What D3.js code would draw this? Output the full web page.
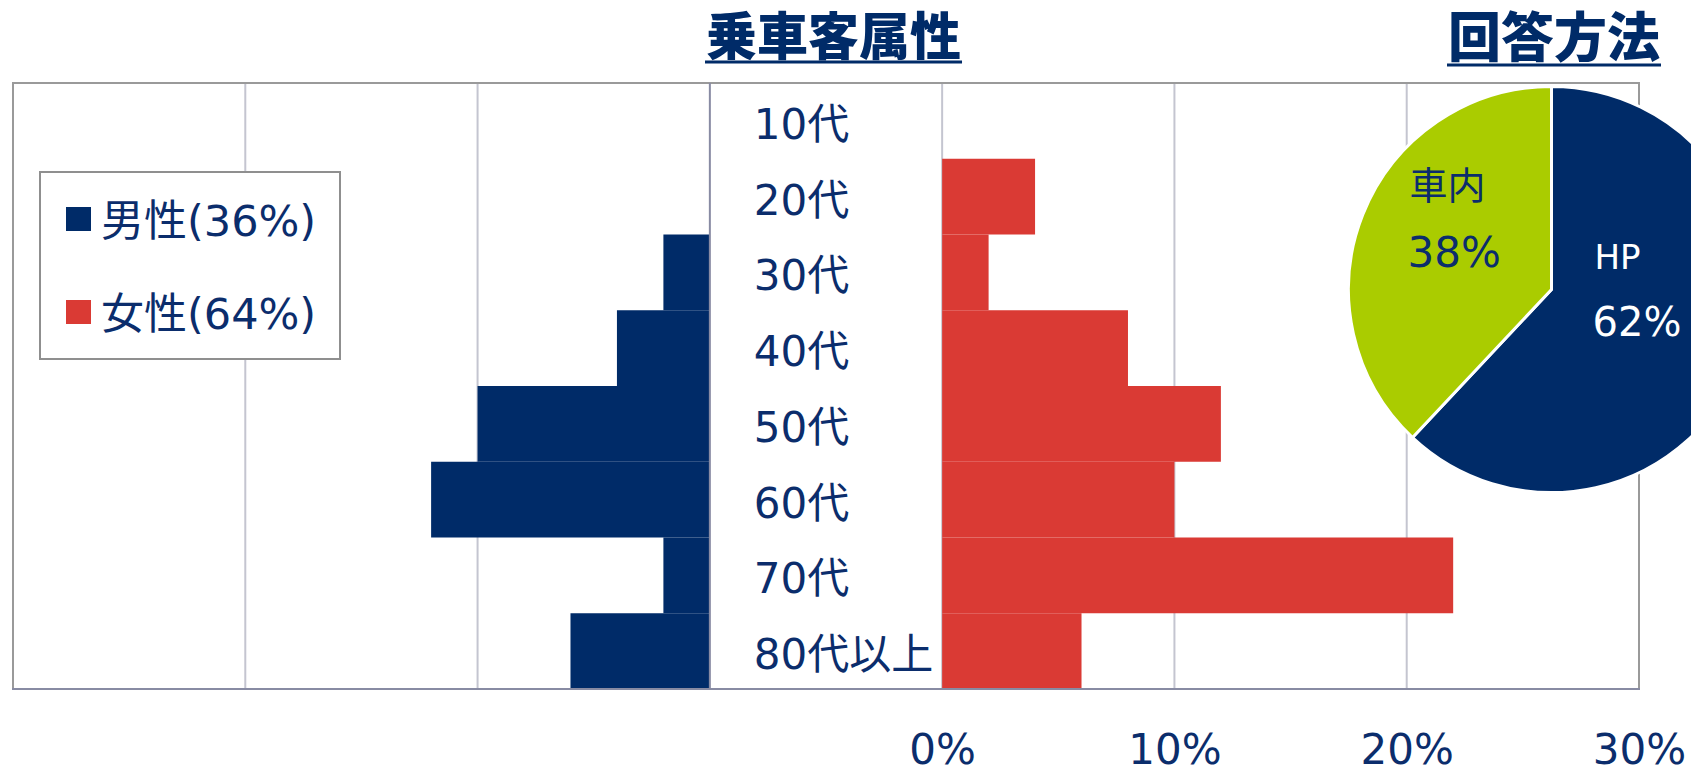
<!DOCTYPE html>
<html>
<head>
<meta charset="utf-8">
<script src="https://cdn.jsdelivr.net/npm/d3@7"></script>
<style>
  html, body { margin: 0; padding: 0; background: #ffffff; }
  svg { display: block; }
</style>
</head>
<body>
<script>
// Age groups, top to bottom
const categories = ["10代", "20代", "30代", "40代", "50代", "60代", "70代", "80代以上"];
// Share of all respondents (%) per age group
const maleValues = [0, 0, 2, 4, 10, 12, 2, 6];
const femaleValues = [0, 4, 2, 8, 12, 10, 22, 6];
// Value-axis tick labels (female side)
const tickValues = [0, 10, 20, 30];
// Answer method split
const methodLabels = ["HP", "車内"];
const methodValues = [62, 38];

const W = 1691, H = 769;
const FONT = "'DejaVu Sans', 'Noto Sans CJK JP', sans-serif";
const CJK_BOLD = "'Noto Sans CJK JP', sans-serif";
const NAVY = "#002b68", RED = "#da3a34", GREEN = "#aacc00", INK = "#0b2d6c";
const GRID = "#c4c5d0", AXIS = "#888ba3", BORDER = "#9a9a9a";

const svg = d3.select("body").append("svg")
  .attr("width", W).attr("height", H)
  .style("font-family", FONT);

// ---- Population pyramid -------------------------------------------------
const plot = { left: 13, right: 1639, top: 83, bottom: 689 };
const x = d3.scaleLinear().domain([-40, 30]).range([plot.left, plot.right]);
// Male bars grow leftwards from their own zero line at -10 on the shared axis
const xMale = d3.scaleLinear().domain([0, 30]).range([x(-10), x(-40)]);
const y = d3.scaleBand().domain(categories).range([plot.top, plot.bottom]).padding(0);

// Gridlines
svg.append("g").selectAll("line")
  .data([-30, -20, 0, 10, 20])
  .join("line")
  .attr("x1", d => x(d)).attr("x2", d => x(d))
  .attr("y1", plot.top).attr("y2", plot.bottom)
  .attr("stroke", GRID).attr("stroke-width", 2);

// Plot border (top, left, right)
svg.append("path")
  .attr("d", `M${plot.left},${plot.bottom} V${plot.top} H${plot.right} V${plot.bottom}`)
  .attr("fill", "none").attr("stroke", BORDER).attr("stroke-width", 2);

// Bars
svg.append("g").selectAll("rect")
  .data(categories.map((c, i) => ({ c, v: maleValues[i] })))
  .join("rect")
  .attr("x", d => xMale(d.v))
  .attr("width", d => xMale(0) - xMale(d.v))
  .attr("y", d => y(d.c))
  .attr("height", y.bandwidth())
  .attr("fill", NAVY);

svg.append("g").selectAll("rect")
  .data(categories.map((c, i) => ({ c, v: femaleValues[i] })))
  .join("rect")
  .attr("x", x(0))
  .attr("width", d => x(d.v) - x(0))
  .attr("y", d => y(d.c))
  .attr("height", y.bandwidth())
  .attr("fill", RED);

// Male zero line and bottom axis line
svg.append("line")
  .attr("x1", xMale(0)).attr("x2", xMale(0))
  .attr("y1", plot.top).attr("y2", plot.bottom)
  .attr("stroke", AXIS).attr("stroke-width", 2);
svg.append("line")
  .attr("x1", plot.left - 1).attr("x2", plot.right + 1)
  .attr("y1", plot.bottom).attr("y2", plot.bottom)
  .attr("stroke", AXIS).attr("stroke-width", 2);

// Age group labels in the centre gap
svg.append("g").selectAll("text")
  .data(categories)
  .join("text")
  .attr("x", xMale(0) + 44)
  .attr("y", d => y(d) + y.bandwidth() / 2 + 18)
  .attr("fill", INK)
  .attr("font-size", 42)
  .text(d => d);

// Value axis labels
const axis = svg.append("g")
  .attr("transform", `translate(0,${plot.bottom})`)
  .call(d3.axisBottom(x).tickValues(tickValues).tickFormat(d => d + "%").tickSize(0));
axis.select(".domain").remove();
axis.selectAll("text")
  .attr("y", 75).attr("dy", 0)
  .attr("fill", INK)
  .style("font-family", FONT)
  .attr("font-size", 42);

// Legend
const legend = svg.append("g");
legend.append("rect")
  .attr("x", 40).attr("y", 172).attr("width", 300).attr("height", 187)
  .attr("fill", "#ffffff").attr("stroke", "#8f8f8f").attr("stroke-width", 2);
const legendItems = [
  { label: `男性(${d3.sum(maleValues)}%)`, color: NAVY },
  { label: `女性(${d3.sum(femaleValues)}%)`, color: RED }
];
legendItems.forEach((d, i) => {
  const gy = 207 + i * 93;
  legend.append("rect")
    .attr("x", 66).attr("y", gy).attr("width", 25).attr("height", 24)
    .attr("fill", d.color);
  legend.append("text")
    .attr("x", 101).attr("y", gy + 29)
    .attr("fill", INK).attr("font-size", 43)
    .text(d.label);
});

// ---- Answer method pie --------------------------------------------------
const cx = 1551.5, cy = 289.5, r = 203;
const pie = d3.pie().sort(null).value(d => d.v);
const arc = d3.arc().innerRadius(0).outerRadius(r);
const pieData = pie(methodLabels.map((l, i) => ({ l, v: methodValues[i] })));
const pieColors = { "HP": NAVY, "車内": GREEN };

const pg = svg.append("g").attr("transform", `translate(${cx},${cy})`);
pg.selectAll("path")
  .data(pieData)
  .join("path")
  .attr("d", arc)
  .attr("fill", d => pieColors[d.data.l])
  .attr("stroke", "#ffffff")
  .attr("stroke-width", 3)
  .attr("stroke-linejoin", "round");

// Slice labels: name on top, percentage below
const labelSpots = {
  "HP":  { dx: 43,   nameY: -20.5, nameSize: 34, pctY: 46.5, pctSize: 40, color: "#ffffff" },
  "車内": { dx: -142, nameY: -91,  nameSize: 38, pctY: -22.5, pctSize: 42, color: INK }
};
pieData.forEach(d => {
  const s = labelSpots[d.data.l];
  pg.append("text")
    .attr("x", s.dx).attr("y", s.nameY)
    .attr("fill", s.color).attr("font-size", s.nameSize)
    .text(d.data.l);
  pg.append("text")
    .attr("x", s.dx - 2).attr("y", s.pctY)
    .attr("fill", s.color).attr("font-size", s.pctSize)
    .text(d.data.v + "%");
});

// ---- Section titles -----------------------------------------------------
function title(text, x0, baseline, size, underlineY) {
  const t = svg.append("text")
    .attr("x", x0).attr("y", baseline)
    .attr("fill", NAVY)
    .attr("font-size", size)
    .attr("font-weight", 900)
    .style("font-family", CJK_BOLD)
    .text(text);
  const len = t.node().getComputedTextLength();
  svg.append("line")
    .attr("x1", x0 - 1).attr("x2", x0 + len + 1)
    .attr("y1", underlineY).attr("y2", underlineY)
    .attr("stroke", NAVY).attr("stroke-width", 3);
}
title("乗車客属性", 706, 55, 51, 62);
title("回答方法", 1448, 57, 53, 65);
</script>
</body>
</html>
